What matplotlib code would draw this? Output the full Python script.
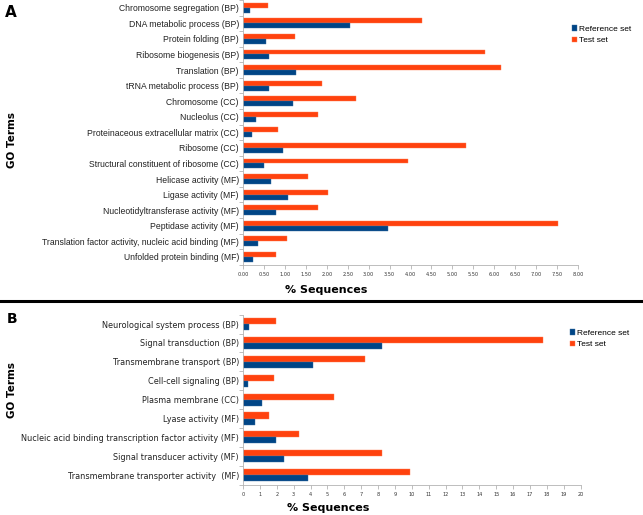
import numpy as np
import matplotlib.pyplot as plt

# Panel A data (top to bottom as in the figure)
terms_a = ['Chromosome segregation (BP)', 'DNA metabolic process (BP)', 'Protein folding (BP)',
           'Ribosome biogenesis (BP)', 'Translation (BP)', 'tRNA metabolic process (BP)',
           'Chromosome (CC)', 'Nucleolus (CC)', 'Proteinaceous extracellular matrix (CC)',
           'Ribosome (CC)', 'Structural constituent of ribosome (CC)', 'Helicase activity (MF)',
           'Ligase activity (MF)', 'Nucleotidyltransferase activity (MF)', 'Peptidase activity (MF)',
           'Translation factor activity, nucleic acid binding (MF)', 'Unfolded protein binding (MF)']
ref_a = [0.17, 2.56, 0.55, 0.63, 1.27, 0.63, 1.19, 0.30, 0.22, 0.96, 0.50, 0.67, 1.07, 0.79, 3.45, 0.36, 0.24]
test_a = [0.60, 4.28, 1.24, 5.78, 6.17, 1.89, 2.69, 1.78, 0.84, 5.33, 3.93, 1.54, 2.04, 1.78, 7.53, 1.04, 0.79]
ticks_a = np.arange(0, 8.01, 0.5)

# Panel B data
terms_b = ['Neurological system process (BP)', 'Signal transduction (BP)', 'Transmembrane transport (BP)',
           'Cell-cell signaling (BP)', 'Plasma membrane (CC)', 'Lyase activity (MF)',
           'Nucleic acid binding transcription factor activity (MF)', 'Signal transducer activity (MF)',
           'Transmembrane transporter activity  (MF)']
ref_b = [0.38, 8.21, 4.17, 0.32, 1.13, 0.69, 1.95, 2.41, 3.87]
test_b = [1.95, 17.78, 7.24, 1.84, 5.41, 1.54, 3.32, 8.21, 9.89]
ticks_b = np.arange(0, 21, 1)

blue = '#004586'
orange = '#ff420e'
axis_grey = '#b3b3b3'


def draw_panel(ax, terms, ref, test, ticks, xmax, tick_fmt, label_font, label_size):
    n = len(terms)
    y = np.arange(n)
    h = 0.32
    ax.barh(y - h / 2, test, height=h, color=orange, edgecolor='#ff7a50', linewidth=0.3, label='Test set')
    ax.barh(y + h / 2, ref, height=h, color=blue, edgecolor='#3a6fa0', linewidth=0.3, label='Reference set')
    ax.set_ylim(n - 0.5, -0.5)
    ax.set_xlim(0, xmax)
    ax.set_yticks(y)
    ax.set_yticklabels(terms, fontsize=label_size, family=label_font, color='#222222')
    ax.set_yticks(np.arange(-0.5, n, 1), minor=True)
    ax.tick_params(axis='y', which='major', length=0, pad=3)
    ax.tick_params(axis='y', which='minor', length=3, color=axis_grey, width=0.6)
    ax.set_xticks(ticks)
    ax.set_xticklabels([tick_fmt.format(t) for t in ticks], fontsize=3.6, color='#333333')
    ax.tick_params(axis='x', length=3, color=axis_grey, width=0.6, pad=2)
    for s in ['top', 'right']:
        ax.spines[s].set_visible(False)
    for s in ['left', 'bottom']:
        ax.spines[s].set_color(axis_grey)
        ax.spines[s].set_linewidth(0.6)
    ax.set_axisbelow(True)


fig = plt.figure(figsize=(6.43, 5.15), dpi=100)

ax_a = fig.add_axes([0.378, 0.486, 0.521, 0.514])
draw_panel(ax_a, terms_a, ref_a, test_a, ticks_a, 8.0, '{:.2f}', 'Liberation Sans', 6.2)

ax_b = fig.add_axes([0.378, 0.059, 0.525, 0.330])
draw_panel(ax_b, terms_b, ref_b, test_b, ticks_b, 20, '{:.0f}', 'DejaVu Sans', 5.9)

# legends: Reference set first
for ax, x0, y0 in [(ax_a, 0.885, 0.957), (ax_b, 0.882, 0.367)]:
    handles, labels = ax.get_legend_handles_labels()
    fig.legend(handles[::-1], labels[::-1], loc='upper left', bbox_to_anchor=(x0, y0),
               frameon=False, handlelength=0.6, handleheight=0.6,
               handletextpad=0.2, labelspacing=0.45, borderaxespad=0,
               prop={'family': 'Liberation Sans', 'size': 6.0})

# axis titles
fig.text(0.507, 0.437, '% Sequences', fontsize=8, fontweight='bold', ha='center', va='center')
fig.text(0.510, 0.013, '% Sequences', fontsize=8, fontweight='bold', ha='center', va='center')
fig.text(0.019, 0.728, 'GO Terms', fontsize=7.5, fontweight='bold', rotation=90, ha='center', va='center')
fig.text(0.019, 0.243, 'GO Terms', fontsize=7.5, fontweight='bold', rotation=90, ha='center', va='center')

# panel letters
fig.text(0.008, 0.976, 'A', fontsize=11, fontweight='bold', ha='left', va='center')
fig.text(0.010, 0.380, 'B', fontsize=10, fontweight='bold', ha='left', va='center')

# separator line between panels
fig.add_artist(plt.Line2D([0, 1], [0.416, 0.416], color='black', linewidth=2.2, transform=fig.transFigure))

fig.savefig('out.png', dpi=100)
